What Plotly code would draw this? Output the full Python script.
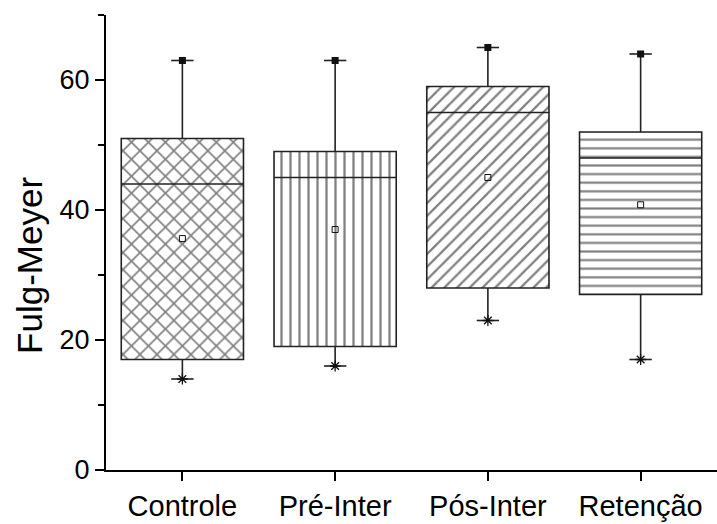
import plotly.graph_objects as go

categories = ["Controle", "Pré-Inter", "Pós-Inter", "Retenção"]
minimum = [14, 16, 23, 17]
q1 = [17, 19, 28, 27]
median = [44, 45, 55, 48]
q3 = [51, 49, 59, 52]
maximum = [63, 63, 65, 64]
mean = [35.6, 37, 45, 40.8]
patterns = ["x", "|", "/", "-"]
pattern_sizes = [12, 9, 9, 8.6]

y_ticks = [0, 20, 40, 60]
y_title = "Fulg-Meyer"

FONT = "Liberation Sans, Arial, sans-serif"

fig = go.Figure()

# patterned box bodies
fig.add_trace(go.Bar(
    x=categories,
    y=[b - a for a, b in zip(q1, q3)],
    base=q1,
    width=0.8,
    marker=dict(
        color="white",
        line=dict(width=0),
        pattern=dict(shape=patterns, fgcolor="black", bgcolor="white",
                     size=pattern_sizes, solidity=0.25),
    ),
    showlegend=False,
    hoverinfo="skip",
))

# box outlines, medians and whiskers
fig.add_trace(go.Box(
    x=categories,
    q1=q1, median=median, q3=q3,
    lowerfence=minimum, upperfence=maximum,
    width=0.8,
    whiskerwidth=0,
    fillcolor="rgba(0,0,0,0)",
    line=dict(color="#222", width=1.6),
    showlegend=False,
))

# caps
fig.add_trace(go.Scatter(
    x=categories + categories, y=maximum + minimum, mode="markers",
    marker=dict(symbol="line-ew", size=16, line=dict(color="#222", width=1.6)),
    showlegend=False, hoverinfo="skip",
))
fig.add_trace(go.Scatter(
    x=categories, y=maximum, mode="markers",
    marker=dict(symbol="square", size=7, color="#111"),
    showlegend=False,
))
fig.add_trace(go.Scatter(
    x=categories, y=minimum, mode="markers",
    marker=dict(symbol="asterisk", size=9, line=dict(color="#111", width=1.3)),
    showlegend=False,
))
# mean
fig.add_trace(go.Scatter(
    x=categories, y=mean, mode="markers",
    marker=dict(symbol="square-open", size=6, color="#111", line=dict(width=1)),
    showlegend=False,
))

fig.add_annotation(
    text=y_title, textangle=-90,
    xref="paper", yref="paper",
    x=-0.125, y=0.45, xanchor="center", yanchor="middle",
    showarrow=False, font=dict(size=35),
)

fig.update_layout(
    width=717, height=524,
    margin=dict(l=106, r=0, t=15, b=54),
    paper_bgcolor="white", plot_bgcolor="white",
    font=dict(family=FONT, size=24, color="black"),
    xaxis=dict(
        type="category",
        range=[-0.5, 3.5],
        automargin=False,
        showline=True, linecolor="black", linewidth=2,
        ticks="outside", ticklen=9, tickwidth=1.5, tickcolor="black",
        showgrid=False, zeroline=False,
        tickfont=dict(size=29),
    ),
    yaxis=dict(
        range=[0, 70],
        automargin=False,
        tickvals=y_ticks,
        showline=True, linecolor="black", linewidth=2,
        ticks="outside", ticklen=9, tickwidth=1.5, tickcolor="black",
        minor=dict(dtick=10, ticks="outside", ticklen=6, tickwidth=1.5, tickcolor="black"),
        showgrid=False, zeroline=False,
        tickfont=dict(size=27),
    ),
)

fig.write_html(
    "out.html",
    config={"displayModeBar": False},
    post_script="document.body.style.margin='0';document.body.style.overflow='hidden';",
)
